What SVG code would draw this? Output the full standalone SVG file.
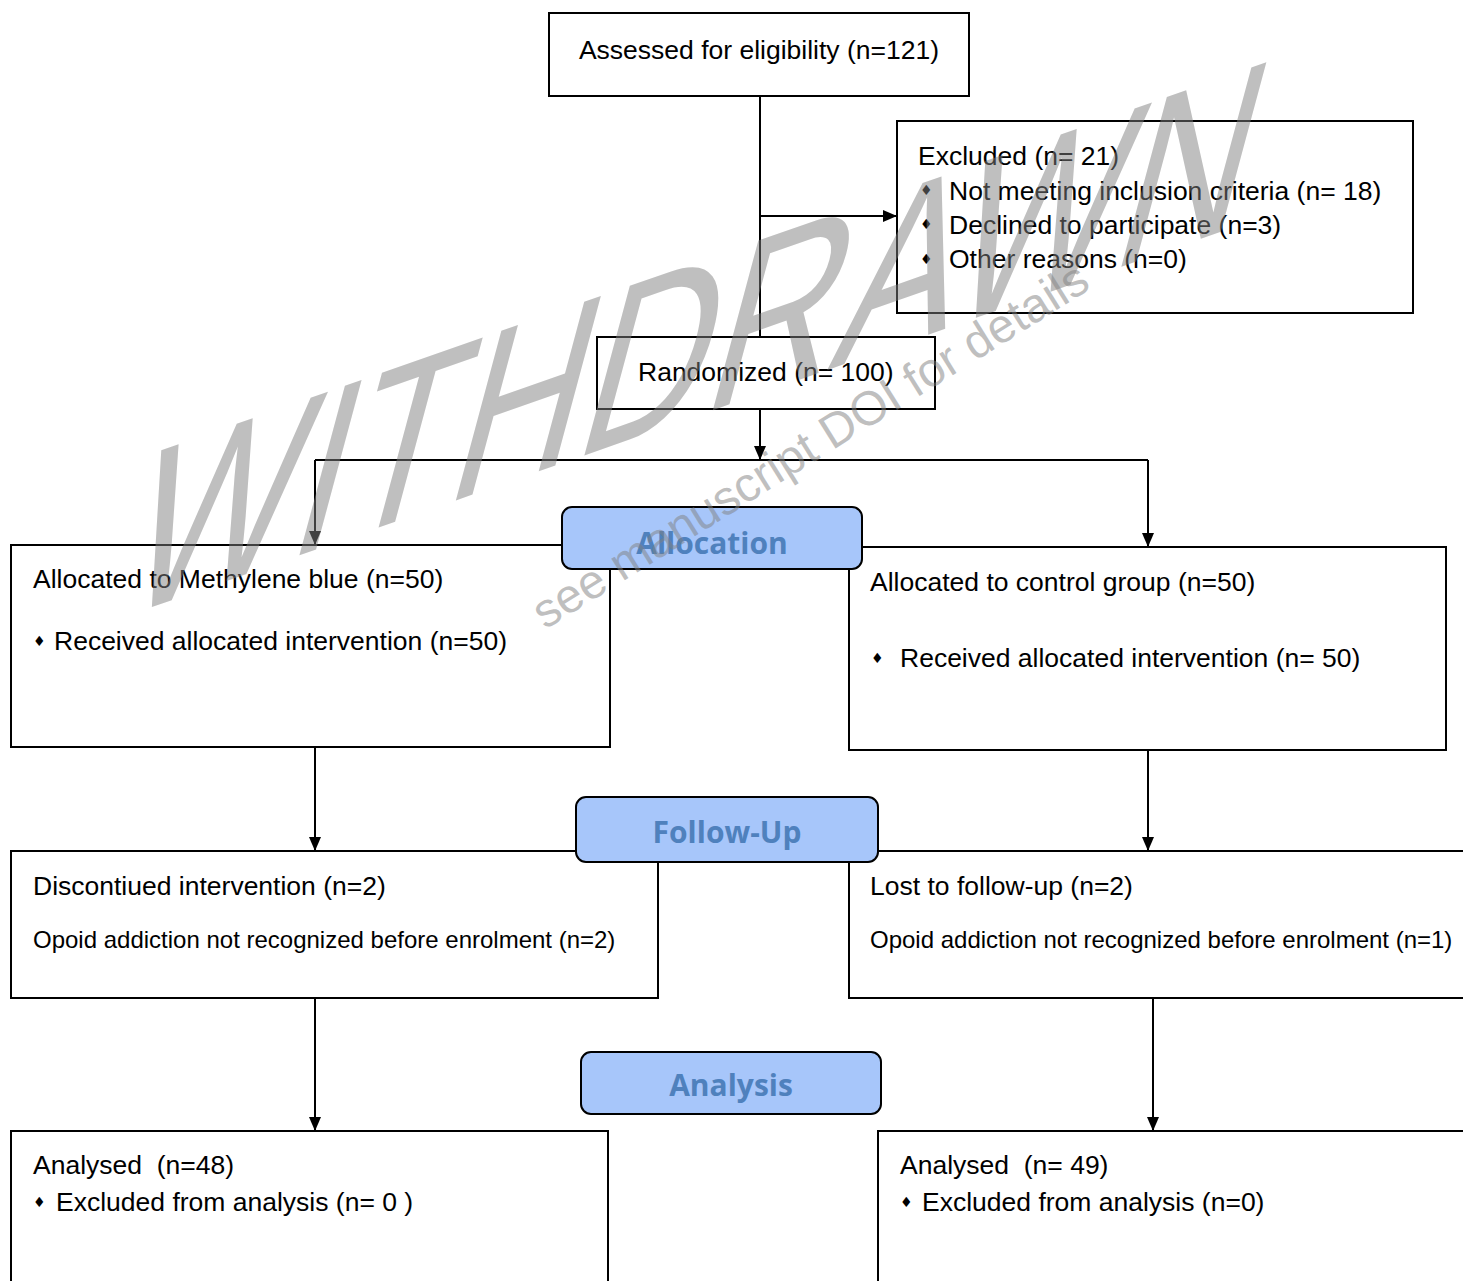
<svg xmlns="http://www.w3.org/2000/svg" width="1463" height="1281" viewBox="0 0 1463 1281">
<defs>
<marker id="ah" viewBox="0 0 14 12" refX="14" refY="6" markerWidth="14" markerHeight="12" orient="auto" markerUnits="userSpaceOnUse"><path d="M0,0 L14,6 L0,12 z" fill="#000"/></marker>
<style>
.box{fill:#fff;stroke:#000;stroke-width:2}
.lbl{fill:#a7c6fa;stroke:#000;stroke-width:2}
.t{font-family:"Liberation Sans",Arial,sans-serif;font-size:26.5px;fill:#000;white-space:pre}
.s{font-family:"Liberation Sans",Arial,sans-serif;font-size:24px;fill:#000}
.b{font-family:"DejaVu Sans",sans-serif;font-size:14px;fill:#000}
.lt{font-family:"Open Sans",sans-serif;font-weight:bold;font-size:30px;fill:#4f81bd;text-anchor:middle}
.wm{font-family:"Liberation Sans",Arial,sans-serif;fill:#808080;fill-opacity:0.5}
.c{fill:none;stroke:#000;stroke-width:2}
</style>
</defs>
<rect width="1463" height="1281" fill="#fff"/>
<g id="connectors">
<path class="c" d="M760,96 V337"/>
<path class="c" d="M760,216 H897" marker-end="url(#ah)"/>
<path class="c" d="M760,409 V460" marker-end="url(#ah)"/>
<path class="c" d="M315,460 H1148"/>
<path class="c" d="M315,460 V545" marker-end="url(#ah)"/>
<path class="c" d="M1148,460 V547" marker-end="url(#ah)"/>
<path class="c" d="M315,747 V851" marker-end="url(#ah)"/>
<path class="c" d="M1148,750 V851" marker-end="url(#ah)"/>
<path class="c" d="M315,998 V1131" marker-end="url(#ah)"/>
<path class="c" d="M1153,998 V1131" marker-end="url(#ah)"/>
</g>
<g id="assessed"><rect class="box" x="549" y="13" width="420" height="83"/><text class="t" x="759" y="59" text-anchor="middle">Assessed for eligibility (n=121)</text></g>
<g id="excluded"><rect class="box" x="897" y="121" width="516" height="192"/>
<text class="t" x="918" y="165">Excluded (n= 21)</text>
<text class="b" x="920" y="195">♦</text><text class="t" x="949" y="199.5">Not meeting inclusion criteria (n= 18)</text>
<text class="b" x="920" y="229">♦</text><text class="t" x="949" y="233.5">Declined to participate (n=3)</text>
<text class="b" x="920" y="263.5">♦</text><text class="t" x="949" y="268">Other reasons (n=0)</text>
</g>
<g id="randomized"><rect class="box" x="597" y="337" width="338" height="72"/><text class="t" x="638" y="381">Randomized (n= 100)</text></g>
<g id="alloc-left"><rect class="box" x="11" y="545" width="599" height="202"/>
<text class="t" x="33" y="588">Allocated to Methylene blue (n=50)</text>
<text class="b" x="33" y="646">♦</text><text class="t" x="54" y="650">Received allocated intervention (n=50)</text></g>
<g id="alloc-right"><rect class="box" x="849" y="547" width="597" height="203"/>
<text class="t" x="870" y="591">Allocated to control group (n=50)</text>
<text class="b" x="871" y="663">♦</text><text class="t" x="900" y="667">Received allocated intervention (n= 50)</text></g>
<g id="allocation"><rect class="lbl" x="562" y="507" width="300" height="62" rx="10"/><text class="lt" x="712" y="554">Allocation</text></g>
<g id="fu-left"><rect class="box" x="11" y="851" width="647" height="147"/>
<text class="t" x="33" y="895">Discontiued intervention (n=2)</text>
<text class="s" x="33" y="948">Opoid addiction not recognized before enrolment (n=2)</text></g>
<g id="fu-right"><rect class="box" x="849" y="851" width="640" height="147"/>
<text class="t" x="870" y="895">Lost to follow-up (n=2)</text>
<text class="s" x="870" y="948">Opoid addiction not recognized before enrolment (n=1)</text></g>
<g id="followup"><rect class="lbl" x="576" y="797" width="302" height="65" rx="10"/><text class="lt" x="727" y="843">Follow-Up</text></g>
<g id="analysis"><rect class="lbl" x="581" y="1052" width="300" height="62" rx="10"/><text class="lt" x="731" y="1096">Analysis</text></g>
<g id="an-left"><rect class="box" x="11" y="1131" width="597" height="200"/>
<text class="t" x="33" y="1174">Analysed  (n=48)</text>
<text class="b" x="33" y="1207">♦</text><text class="t" x="56" y="1211">Excluded from analysis (n= 0 )</text></g>
<g id="an-right"><rect class="box" x="878" y="1131" width="640" height="200"/>
<text class="t" x="900" y="1174">Analysed  (n= 49)</text>
<text class="b" x="900" y="1207">♦</text><text class="t" x="922" y="1211">Excluded from analysis (n=0)</text></g>
<g id="watermark">
<text class="wm" font-size="255" transform="matrix(0.698,-0.245,-0.259,0.966,115,620)">WITHDRAWN</text>
<text class="wm" font-size="48" transform="matrix(0.848,-0.530,0.530,0.848,545,630)">see manuscript DOI for details</text>
</g>
</svg>
